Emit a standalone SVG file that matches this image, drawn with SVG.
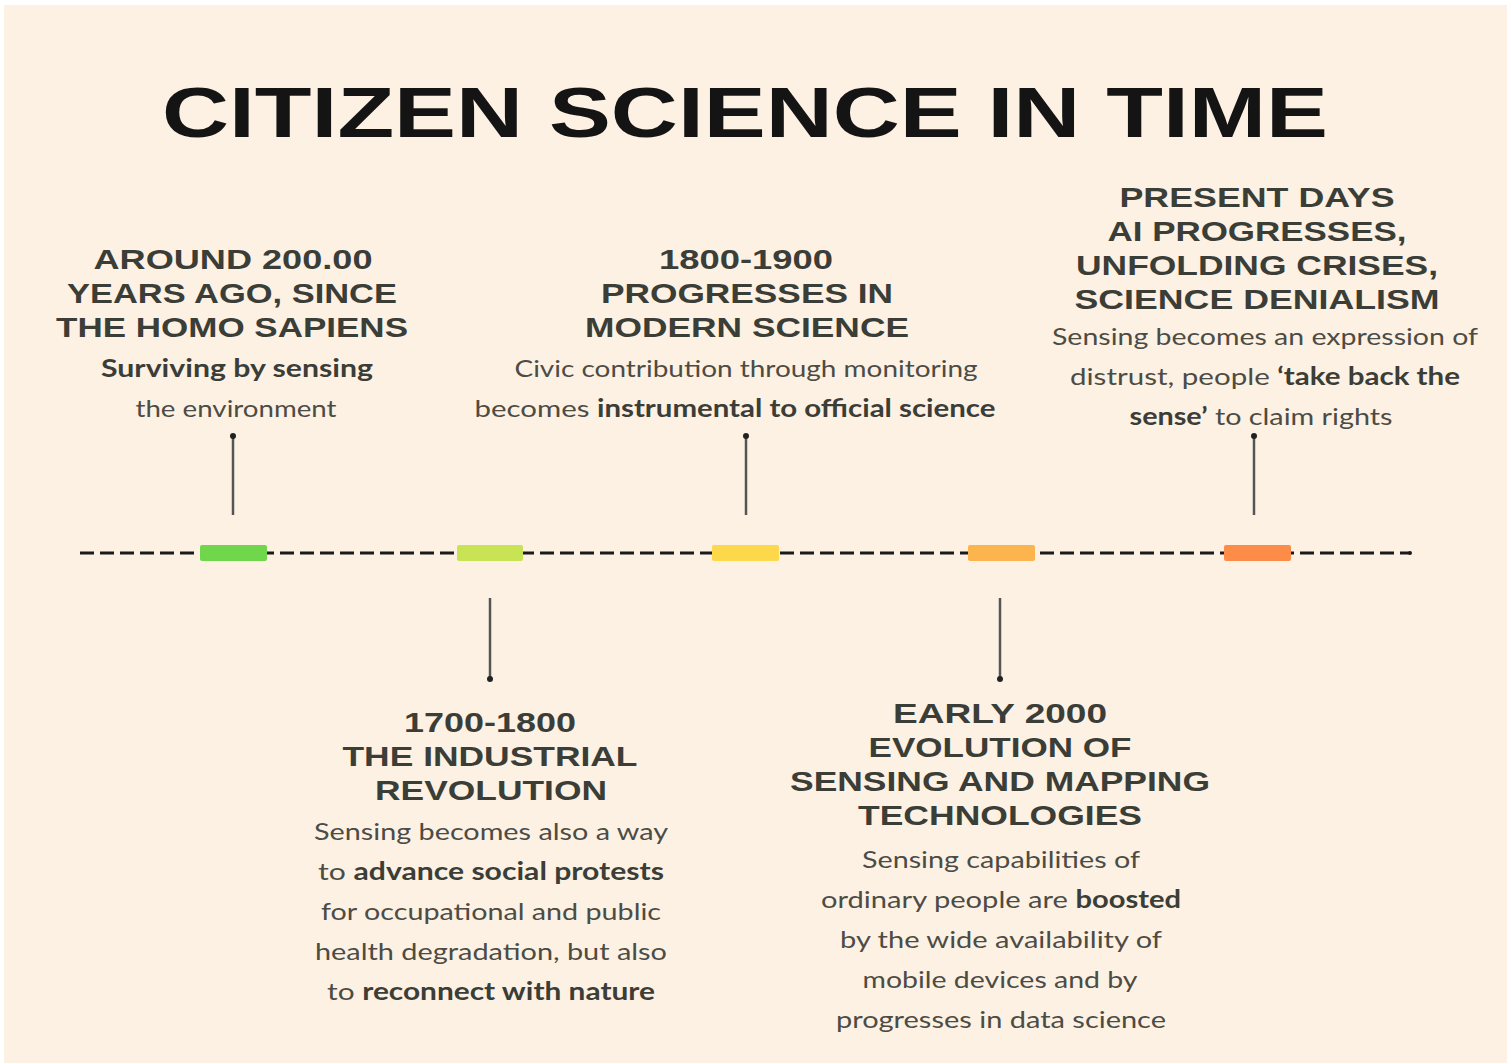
<svg xmlns="http://www.w3.org/2000/svg" width="1507" height="1063" viewBox="0 0 1507 1063">
<style>
.h{font-family:"Liberation Sans",Arial,sans-serif;font-weight:bold;font-size:28px;fill:#3b3d37;text-anchor:middle}
.b{font-family:"Lato","Noto Sans",sans-serif;font-size:24px;fill:#4c4c45;text-anchor:middle}
.bb{font-weight:bold;fill:#3b3d37}
.t{font-family:"Liberation Sans",Arial,sans-serif;font-weight:bold;font-size:70px;fill:#141414;text-anchor:middle}
.c{stroke:#555;stroke-width:2.5;fill:none}
.tick{stroke:none}
</style>
<defs>
<marker id="dot" viewBox="0 0 6 6" refX="3" refY="3" markerWidth="2.4" markerHeight="2.4" orient="auto">
<circle cx="3" cy="3" r="3" fill="#222"/>
</marker>
</defs>
<rect width="1507" height="1063" fill="#ffffff"/>
<rect x="4" y="5" width="1503" height="1058" fill="#fdf1e4"/>
<text class="t" x="745" y="137" textLength="1166" lengthAdjust="spacingAndGlyphs">CITIZEN SCIENCE IN TIME</text>

<g id="timeline">
<line x1="80" y1="553" x2="1410" y2="553" stroke="#1a1a1a" stroke-width="3" stroke-dasharray="14 6"/>
<circle cx="1410" cy="553" r="2" fill="#1a1a1a"/>
<rect x="200" y="545" width="67" height="16" rx="2" fill="#70d64c"/>
<rect x="457" y="545" width="66" height="16" rx="2" fill="#c8e354"/>
<rect x="712" y="545" width="67" height="16" rx="2" fill="#fdd84b"/>
<rect x="968" y="545" width="67" height="16" rx="2" fill="#fcb44e"/>
<rect x="1224" y="545" width="67" height="16" rx="2" fill="#fd8c48"/>
</g>

<g id="connectors">
<line class="c" x1="233" y1="515" x2="233" y2="436" marker-end="url(#dot)"/>
<line class="c" x1="746" y1="515" x2="746" y2="436" marker-end="url(#dot)"/>
<line class="c" x1="1254" y1="515" x2="1254" y2="436" marker-end="url(#dot)"/>
<line class="c" x1="490" y1="598" x2="490" y2="679" marker-end="url(#dot)"/>
<line class="c" x1="1000" y1="598" x2="1000" y2="679" marker-end="url(#dot)"/>
</g>

<g id="node1">
<text class="h" x="233" y="269" textLength="279" lengthAdjust="spacingAndGlyphs">AROUND 200.00</text>
<text class="h" x="232" y="303" textLength="330" lengthAdjust="spacingAndGlyphs">YEARS AGO, SINCE</text>
<text class="h" x="232" y="337" textLength="352" lengthAdjust="spacingAndGlyphs">THE HOMO SAPIENS</text>
<text class="b bb" x="237" y="377" textLength="272" lengthAdjust="spacingAndGlyphs">Surviving by sensing</text>
<text class="b" x="236" y="417" textLength="201" lengthAdjust="spacingAndGlyphs">the environment</text>
</g>

<g id="node2">
<text class="h" x="490" y="732" textLength="172" lengthAdjust="spacingAndGlyphs">1700-1800</text>
<text class="h" x="490" y="766" textLength="295" lengthAdjust="spacingAndGlyphs">THE INDUSTRIAL</text>
<text class="h" x="491" y="800" textLength="232" lengthAdjust="spacingAndGlyphs">REVOLUTION</text>
<text class="b" x="491" y="840" textLength="354" lengthAdjust="spacingAndGlyphs">Sensing becomes also a way</text>
<text class="b" x="491" y="880" textLength="346" lengthAdjust="spacingAndGlyphs">to <tspan class="bb">advance social protests</tspan></text>
<text class="b" x="491" y="920" textLength="340" lengthAdjust="spacingAndGlyphs">for occupational and public</text>
<text class="b" x="491" y="960" textLength="352" lengthAdjust="spacingAndGlyphs">health degradation, but also</text>
<text class="b" x="491" y="1000" textLength="328" lengthAdjust="spacingAndGlyphs">to <tspan class="bb">reconnect with nature</tspan></text>
</g>

<g id="node3">
<text class="h" x="746" y="269" textLength="174" lengthAdjust="spacingAndGlyphs">1800-1900</text>
<text class="h" x="747" y="303" textLength="292" lengthAdjust="spacingAndGlyphs">PROGRESSES IN</text>
<text class="h" x="747" y="337" textLength="324" lengthAdjust="spacingAndGlyphs">MODERN SCIENCE</text>
<text class="b" x="746" y="377" textLength="463" lengthAdjust="spacingAndGlyphs">Civic contribution through monitoring</text>
<text class="b" x="735" y="417" textLength="521" lengthAdjust="spacingAndGlyphs">becomes <tspan class="bb">instrumental to official science</tspan></text>
</g>

<g id="node4">
<text class="h" x="1000" y="723" textLength="214" lengthAdjust="spacingAndGlyphs">EARLY 2000</text>
<text class="h" x="1000" y="757" textLength="263" lengthAdjust="spacingAndGlyphs">EVOLUTION OF</text>
<text class="h" x="1000" y="791" textLength="420" lengthAdjust="spacingAndGlyphs">SENSING AND MAPPING</text>
<text class="h" x="1000" y="825" textLength="284" lengthAdjust="spacingAndGlyphs">TECHNOLOGIES</text>
<text class="b" x="1001" y="868" textLength="278" lengthAdjust="spacingAndGlyphs">Sensing capabilities of</text>
<text class="b" x="1001" y="908" textLength="360" lengthAdjust="spacingAndGlyphs">ordinary people are <tspan class="bb">boosted</tspan></text>
<text class="b" x="1001" y="948" textLength="322" lengthAdjust="spacingAndGlyphs">by the wide availability of</text>
<text class="b" x="1000" y="988" textLength="275" lengthAdjust="spacingAndGlyphs">mobile devices and by</text>
<text class="b" x="1001" y="1028" textLength="330" lengthAdjust="spacingAndGlyphs">progresses in data science</text>
</g>

<g id="node5">
<text class="h" x="1257" y="207" textLength="275" lengthAdjust="spacingAndGlyphs">PRESENT DAYS</text>
<text class="h" x="1257" y="241" textLength="299" lengthAdjust="spacingAndGlyphs">AI PROGRESSES,</text>
<text class="h" x="1257" y="275" textLength="362" lengthAdjust="spacingAndGlyphs">UNFOLDING CRISES,</text>
<text class="h" x="1257" y="309" textLength="365" lengthAdjust="spacingAndGlyphs">SCIENCE DENIALISM</text>
<text class="b" x="1265" y="345" textLength="426" lengthAdjust="spacingAndGlyphs">Sensing becomes an expression of</text>
<text class="b" x="1265" y="385" textLength="390" lengthAdjust="spacingAndGlyphs">distrust, people <tspan class="bb">‘take back the</tspan></text>
<text class="b" x="1261" y="425" textLength="263" lengthAdjust="spacingAndGlyphs"><tspan class="bb">sense’</tspan> to claim rights</text>
</g>
</svg>
